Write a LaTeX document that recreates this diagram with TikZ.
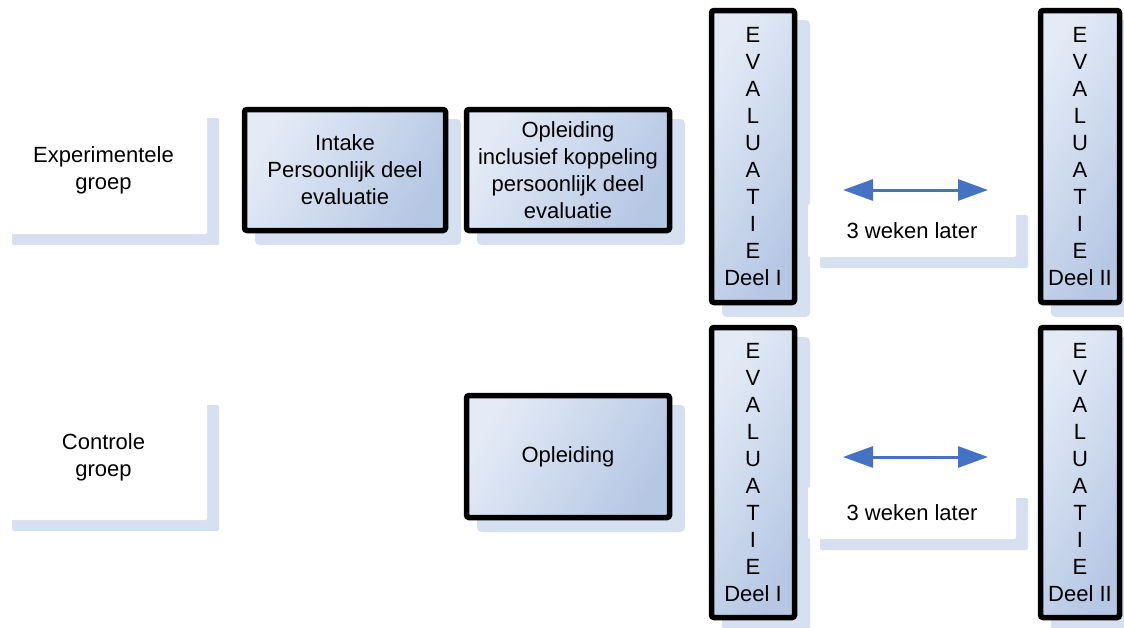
\documentclass[tikz,border=0pt]{standalone}
\usepackage{fontspec}
\setmainfont{Liberation Sans}
\usetikzlibrary{arrows.meta,shadows}
\definecolor{shadowc}{RGB}{214,224,241}
\definecolor{boxlight}{RGB}{228,235,246}
\definecolor{boxdark}{RGB}{182,199,228}
\definecolor{arrowblue}{RGB}{68,114,196}
\begin{document}
\begin{tikzpicture}[x=1pt,y=-1pt,
  every node/.style={font=\fontsize{22}{27}\selectfont, align=center, inner sep=0pt},
  stepbox/.style={draw=black, line width=5.5pt, rounded corners=2.5pt,
    left color=boxlight, right color=boxdark, shading angle=60,
    drop shadow={shadow xshift=13pt, shadow yshift=-12pt, fill=shadowc, draw=shadowc, line width=5pt, opacity=1}},
  labelbox/.style={fill=white, rounded corners=2pt,
    drop shadow={shadow xshift=12pt, shadow yshift=-11pt, fill=shadowc, opacity=1}},
  twoway/.style={arrowblue, line width=3pt,
    {Triangle[length=30pt,width=21pt]}-{Triangle[length=30pt,width=21pt]}}
]
\useasboundingbox (0,0) rectangle (1124,627);

% group labels
\node[labelbox, minimum width=207pt, minimum height=127pt] (exp) at (103.5,170.5) {Experimentele\\groep};
\node[labelbox, minimum width=207pt, minimum height=126pt] (con) at (103.5,457) {Controle\\groep};

% row 1
\node[stepbox, minimum width=201pt, minimum height=121pt] (intake) at (345,170) {Intake\\Persoonlijk deel\\evaluatie};
\node[stepbox, minimum width=203pt, minimum height=121pt] (opl1) at (568,170) {Opleiding\\inclusief koppeling\\persoonlijk deel\\evaluatie};
\node[stepbox, minimum width=83pt, minimum height=292pt] (ev1a) at (753,156.5) {E\\V\\A\\L\\U\\A\\T\\I\\E\\Deel I};
\node[stepbox, minimum width=79pt, minimum height=292pt] (ev2a) at (1080,156.5) {E\\V\\A\\L\\U\\A\\T\\I\\E\\Deel II};

% row 2
\node[stepbox, minimum width=203pt, minimum height=122pt] (opl2) at (568,456.5) {Opleiding};
\node[stepbox, minimum width=83pt, minimum height=290pt] (ev1b) at (753,472.5) {E\\V\\A\\L\\U\\A\\T\\I\\E\\Deel I};
\node[stepbox, minimum width=79pt, minimum height=290pt] (ev2b) at (1080,472.5) {E\\V\\A\\L\\U\\A\\T\\I\\E\\Deel II};

% interval labels
\node[labelbox, minimum width=208pt, minimum height=53pt] (lat1) at (912,230.5) {3 weken later};
\node[labelbox, minimum width=208pt, minimum height=52pt] (lat2) at (912,513) {3 weken later};

% arrows
\coordinate (a1l) at (843,190);
\coordinate (a1r) at (988,190);
\coordinate (a2l) at (843,457);
\coordinate (a2r) at (988,457);
\draw[twoway] (a1l) -- (a1r);
\draw[twoway] (a2l) -- (a2r);
\end{tikzpicture}
\end{document}
